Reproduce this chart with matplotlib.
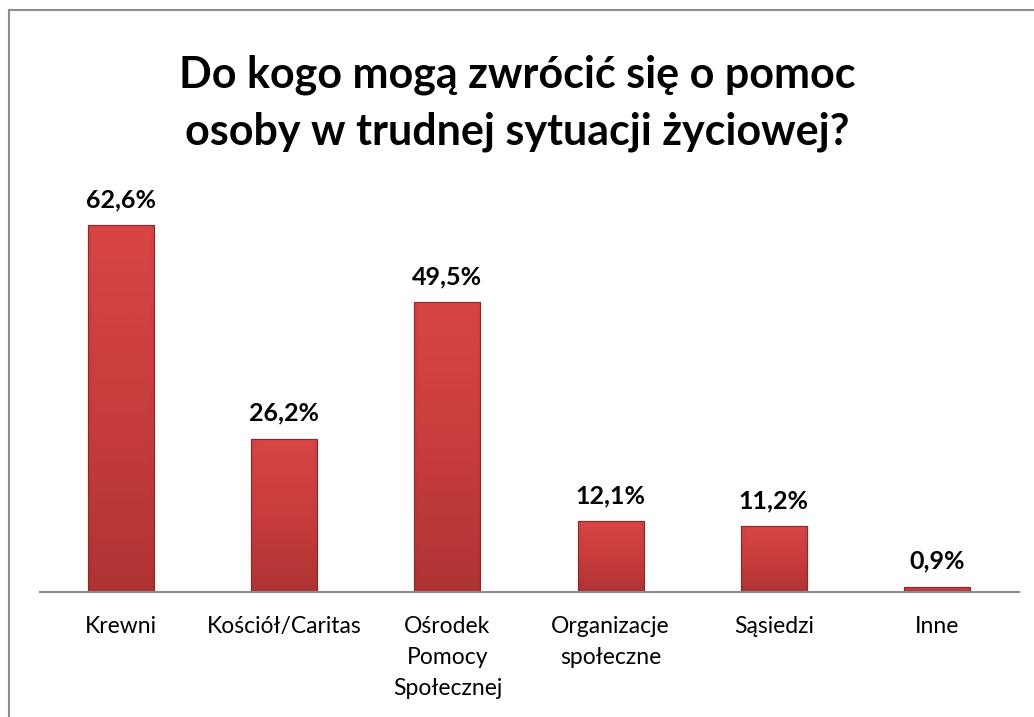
import matplotlib
matplotlib.use("Agg")
import matplotlib.pyplot as plt
import numpy as np
from matplotlib.patches import Rectangle
from matplotlib.colors import LinearSegmentedColormap

categories = ["Krewni", "Kościół/Caritas", "Ośrodek\nPomocy\nSpołecznej",
              "Organizacje\nspołeczne", "Sąsiedzi", "Inne"]
values = [62.6, 26.2, 49.5, 12.1, 11.2, 0.9]
value_labels = ["62,6%", "26,2%", "49,5%", "12,1%", "11,2%", "0,9%"]
title = "Do kogo mogą zwrócić się o pomoc\nosoby w trudnej sytuacji życiowej?"

plt.rcParams['font.family'] = ['Lato', 'DejaVu Sans']

fig = plt.figure(figsize=(10.34, 7.17), dpi=100)
fig.patch.set_facecolor("white")

# outer border
fig.add_artist(Rectangle((9/1034, -0.1), 1.2, 1 - 10/717 + 0.1, transform=fig.transFigure,
                         fill=False, edgecolor="#8c8c8c", linewidth=1.5))

ax = fig.add_axes([39.5/1034, 125/717, 979/1034, 410/717])
x = np.arange(len(categories))
width = 0.405
bars = ax.bar(x, values, width=width, color="#c83c3c", edgecolor="#8a2a2a", linewidth=0.8, zorder=2)

cmap = LinearSegmentedColormap.from_list("rg", ["#a42f2f", "#c43b3b", "#d84545"])
for b in bars:
    x0, w, h = b.get_x(), b.get_width(), b.get_height()
    grad_v = np.linspace(0, 1, 256).reshape(-1, 1)
    grad_h = np.linspace(0, 1, 64).reshape(1, -1)
    edge = np.clip(np.minimum(grad_h, 1 - grad_h) / 0.08, 0, 1)
    img = (0.75 * grad_v + 0.15) * (0.85 + 0.15 * edge)
    im = ax.imshow(img, extent=(x0, x0 + w, 0, h), origin="lower", aspect="auto",
                   cmap=cmap, vmin=0, vmax=0.9, zorder=2.5)
    im.set_clip_path(b)
    ax.add_patch(Rectangle((x0, 0), w, h, fill=False, edgecolor="#8a2a2a", linewidth=0.8, zorder=3))

for xi, v, lab in zip(x, values, value_labels):
    ax.annotate(lab, (xi, v), xytext=(0, 10), textcoords="offset points",
                ha="center", va="bottom", fontsize=18, fontweight="bold", color="black")

ax.set_xlim(-0.5, len(categories) - 0.5)
ax.set_ylim(0, 70)
ax.set_xticks(x)
ax.set_xticklabels(categories, fontsize=16.5, linespacing=1.6)
ax.tick_params(axis="x", length=0, pad=17)
ax.set_yticks([])
for s in ["top", "right", "left"]:
    ax.spines[s].set_visible(False)
ax.spines["bottom"].set_color("#8c8c8c")
ax.spines["bottom"].set_linewidth(1.5)
ax.spines["bottom"].set_zorder(4)

fig.text(517/1034, 1 - 103/717, title, ha="center", va="center", fontsize=31,
         fontweight="bold", linespacing=1.5)

fig.savefig("out.png", dpi=100)
